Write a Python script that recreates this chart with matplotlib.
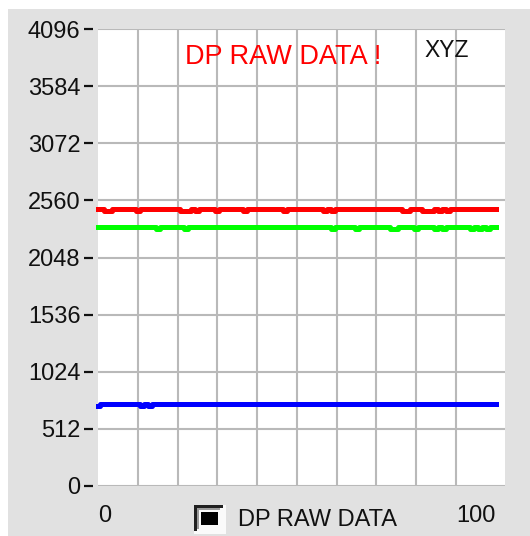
import matplotlib
matplotlib.use("Agg")
import matplotlib.pyplot as plt
from matplotlib.patches import Rectangle
import numpy as np

plt.rcParams["font.family"] = ["Liberation Sans", "DejaVu Sans"]

# raw readings per sample (x = 0..100)
samples = np.arange(101)
red = [2480, 2480, 2462, 2462, 2480, 2480, 2480, 2480, 2480, 2480,
       2462, 2480, 2480, 2480, 2480, 2480, 2480, 2480, 2480, 2480,
       2480, 2462, 2462, 2462, 2480, 2462, 2480, 2480, 2480, 2480,
       2462, 2480, 2480, 2480, 2480, 2480, 2480, 2462, 2480, 2480,
       2480, 2480, 2480, 2480, 2480, 2480, 2480, 2462, 2480, 2480,
       2480, 2480, 2480, 2480, 2480, 2480, 2480, 2462, 2480, 2462,
       2480, 2480, 2480, 2480, 2480, 2480, 2480, 2480, 2480, 2480,
       2480, 2480, 2480, 2480, 2480, 2480, 2480, 2462, 2462, 2480,
       2480, 2480, 2462, 2462, 2462, 2480, 2462, 2480, 2462, 2480,
       2480, 2480, 2480, 2480, 2480, 2480, 2480, 2480, 2480, 2480, 2480]
green = [2320, 2320, 2320, 2320, 2320, 2320, 2320, 2320, 2320, 2320,
         2320, 2320, 2320, 2320, 2320, 2302, 2320, 2320, 2320, 2320,
         2320, 2320, 2302, 2320, 2320, 2320, 2320, 2320, 2320, 2320,
         2320, 2320, 2320, 2320, 2320, 2320, 2320, 2320, 2320, 2320,
         2320, 2320, 2320, 2320, 2320, 2320, 2320, 2320, 2320, 2320,
         2320, 2320, 2320, 2320, 2320, 2320, 2320, 2320, 2320, 2302,
         2320, 2320, 2320, 2320, 2320, 2302, 2320, 2320, 2320, 2320,
         2320, 2320, 2320, 2320, 2302, 2302, 2320, 2320, 2320, 2320,
         2302, 2320, 2320, 2320, 2320, 2302, 2320, 2302, 2320, 2320,
         2320, 2320, 2320, 2320, 2302, 2320, 2302, 2320, 2302, 2320, 2320]
blue = [718, 736, 736, 736, 736, 736, 736, 736, 736, 736,
        736, 718, 736, 718, 736, 736, 736, 736, 736, 736,
        736, 736, 736, 736, 736, 736, 736, 736, 736, 736,
        736, 736, 736, 736, 736, 736, 736, 736, 736, 736,
        736, 736, 736, 736, 736, 736, 736, 736, 736, 736,
        736, 736, 736, 736, 736, 736, 736, 736, 736, 736,
        736, 736, 736, 736, 736, 736, 736, 736, 736, 736,
        736, 736, 736, 736, 736, 736, 736, 736, 736, 736,
        736, 736, 736, 736, 736, 736, 736, 736, 736, 736,
        736, 736, 736, 736, 736, 736, 736, 736, 736, 736, 736]
y_ticks = list(range(0, 4097, 512))
x_grid = list(range(0, 101, 10))
x_labels = ["0", "100"]

W, H = 530, 536
fig = plt.figure(figsize=(W / 100, H / 100), dpi=100, facecolor="white")
fig.patches.append(Rectangle((8 / W, 0), 1, (H - 9) / H, transform=fig.transFigure,
                             facecolor="#e1e1e1", edgecolor="none", zorder=-10))

ax = fig.add_axes([98 / W, (H - 486) / H, 407 / W, 457 / H])
ax.set_facecolor("white")
for side in ("top", "right", "bottom"):
    ax.spines[side].set_visible(False)
ax.spines["left"].set_position(("outward", 3.6))
ax.spines["left"].set_color("none")

ax.set_xlim(0, 102.3)
ax.set_ylim(0, 4096)
ax.set_yticks(y_ticks)
ax.set_yticklabels([str(v) for v in y_ticks])
ax.set_xticks(x_grid, minor=True)
ax.set_xticks([0, 100], x_labels)
ax.tick_params(axis="y", length=6.5, width=1.6, color="#111111", pad=2.5,
               labelsize=17, labelcolor="#111111")
ax.tick_params(axis="x", which="both", length=0, pad=14, labelsize=17, labelcolor="#111111")
lbls = ax.get_xticklabels()
lbls[0].set_ha("left")
lbls[1].set_ha("right")

ax.grid(True, axis="y", color="#b9b9b9", lw=1.5)
ax.grid(True, axis="x", which="minor", color="#b9b9b9", lw=1.5)
ax.set_axisbelow(True)

for series, col in ((red, "#ff0000"), (green, "#00ff00"), (blue, "#0000ff")):
    ax.plot(samples, series, color=col, lw=3.6, drawstyle="steps-mid", clip_on=False)

ax.text(0.455, 0.939, "DP RAW DATA !", transform=ax.transAxes, ha="center", va="center",
        fontsize=19.5, color="#ff0000")
ax.text(0.801, 0.954, "XYZ", transform=ax.transAxes, ha="left", va="center",
        fontsize=16.5, color="#111111")

# legend swatch: sunken frame with black square
def px(x0, y0, w, h, **kw):
    fig.patches.append(Rectangle((x0 / W, 1 - (y0 + h) / H), w / W, h / H,
                                 transform=fig.transFigure, **kw))

px(194, 505, 32, 29, facecolor="#fafafa", edgecolor="none")
px(194, 505, 29, 3, facecolor="#202020", edgecolor="none")
px(194, 505, 3, 26, facecolor="#202020", edgecolor="none")
px(197, 508, 23, 2, facecolor="#9a9a9a", edgecolor="none")
px(197, 508, 2, 21, facecolor="#9a9a9a", edgecolor="none")
px(201, 512, 17, 13, facecolor="black", edgecolor="none")
fig.text(238 / W, 1 - 520 / H, "DP RAW DATA", ha="left", va="center", fontsize=17, color="#111111")

fig.savefig("out.png", dpi=100, facecolor=fig.get_facecolor())
